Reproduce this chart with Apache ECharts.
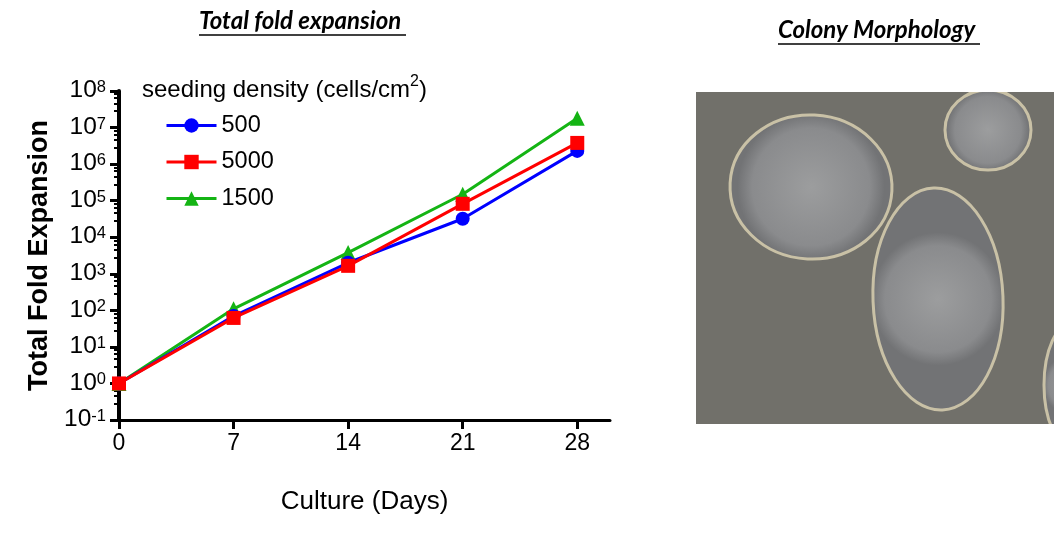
<!DOCTYPE html>
<html>
<head>
<meta charset="utf-8">
<script src="https://cdn.jsdelivr.net/npm/echarts@6/dist/echarts.min.js"></script>
<style>
html,body{margin:0;padding:0;background:#fff;}
#c{width:1054px;height:541px;}
</style>
</head>
<body>
<div id="c"></div>
<script>
// ---- data ----
var days = [0, 7, 14, 21, 28];
var series500 = [1, 70, 2000, 32000, 2300000];
var series5000 = [1, 62, 1650, 82000, 3800000];
var series1500 = [1, 110, 3800, 150000, 18000000];
var xTickValues = [0, 7, 14, 21, 28];
var legendNames = ['500', '5000', '1500'];

function pairs(ys) { return days.map(function (d, i) { return [d, ys[i]]; }); }

var chart = echarts.init(document.getElementById('c'), null, {renderer: 'canvas'});
var FONT = '"Liberation Sans", Arial, sans-serif';

// decorative colony picture (not data)
var pic = {x: 696, y: 92, w: 358, h: 332};
function colony(cx, cy, rx, ry, rot) {
  return {
    type: 'ellipse', rotation: rot || 0, x: cx, y: cy, originX: 0, originY: 0,
    shape: {cx: 0, cy: 0, rx: rx, ry: ry},
    style: {
      fill: {type: 'radial', x: 0.5, y: 0.5, r: 0.5, colorStops: [
        {offset: 0, color: '#9c9d9e'}, {offset: 0.8, color: '#8a8b8d'}, {offset: 1, color: '#727375'}]},
      stroke: '#c9c1a6', lineWidth: 3
    }, z: 1
  };
}

var option = {
  backgroundColor: '#ffffff',
  animation: false,
  textStyle: {fontFamily: FONT},
  grid: {left: 119, top: 91, width: 491, height: 329, containLabel: false},
  legend: {
    data: legendNames,
    orient: 'vertical',
    left: 165, top: 113.5, padding: 0,
    itemWidth: 50, itemHeight: 18, itemGap: 12.5,
    lineStyle: {width: 3},
    textStyle: {fontSize: 23.5, color: '#000', fontFamily: FONT, lineHeight: 24},
    selectedMode: false
  },
  xAxis: {
    type: 'value', min: 0, max: 30,
    name: 'Culture (Days)', nameLocation: 'middle', nameGap: 69,
    nameTextStyle: {fontSize: 26, color: '#000', fontFamily: FONT},
    axisLine: {show: true, onZero: false, lineStyle: {color: '#000', width: 3}},
    axisTick: {show: true, length: 9, lineStyle: {color: '#000', width: 3}, customValues: xTickValues},
    axisLabel: {fontSize: 23, color: '#000', margin: 12, customValues: xTickValues},
    splitLine: {show: false}
  },
  yAxis: {
    type: 'log', logBase: 10, min: 0.1, max: 100000000,
    name: 'Total Fold Expansion', nameLocation: 'middle', nameGap: 66, nameRotate: 90,
    nameTextStyle: {fontSize: 27, fontWeight: 'bold', color: '#000', fontFamily: FONT},
    axisLine: {show: true, lineStyle: {color: '#000', width: 4}},
    axisTick: {show: true, length: 9, lineStyle: {color: '#000', width: 3}},
    minorTick: {show: true, splitNumber: 5, length: 5, lineStyle: {color: '#000', width: 2}},
    axisLabel: {
      margin: 13, color: '#000',
      formatter: function (v) {
        var e = Math.round(Math.log10(v));
        return '{b|10}{s|' + e + '}';
      },
      rich: {
        b: {fontSize: 24.5, color: '#000', fontFamily: FONT, verticalAlign: 'bottom', lineHeight: 24},
        s: {fontSize: 16.5, color: '#000', fontFamily: FONT, verticalAlign: 'top', lineHeight: 24}
      }
    },
    splitLine: {show: false}
  },
  series: [
    {
      name: '1500', type: 'line', data: pairs(series1500),
      symbol: 'triangle', symbolSize: 15,
      lineStyle: {color: '#14b414', width: 3}, itemStyle: {color: '#14b414'}, z: 2
    },
    {
      name: '500', type: 'line', data: pairs(series500),
      symbol: 'circle', symbolSize: 14,
      lineStyle: {color: '#0000ff', width: 3}, itemStyle: {color: '#0000ff'}, z: 3
    },
    {
      name: '5000', type: 'line', data: pairs(series5000),
      symbol: 'rect', symbolSize: 14,
      lineStyle: {color: '#ff0000', width: 3}, itemStyle: {color: '#ff0000'}, z: 4
    }
  ],
  graphic: [
    {type: 'text', left: 199, top: 9, style: {text: 'Total fold expansion', font: 'italic bold 24px Lato, "Open Sans", sans-serif', fill: '#000'}},
    {type: 'line', shape: {x1: 199, y1: 35, x2: 406, y2: 35}, style: {stroke: '#000', lineWidth: 1.5}},
    {type: 'text', left: 778, top: 18, style: {text: 'Colony Morphology', font: 'italic bold 24px Lato, "Open Sans", sans-serif', fill: '#000'}},
    {type: 'line', shape: {x1: 778, y1: 44, x2: 980, y2: 44}, style: {stroke: '#000', lineWidth: 1.5}},
    {type: 'text', left: 142, top: 74, style: {
      text: '{a|seeding density (cells/cm}{s|2}{a|)}',
      rich: {
        a: {fontSize: 24, fill: '#000', fontFamily: FONT, verticalAlign: 'bottom', lineHeight: 28},
        s: {fontSize: 16, fill: '#000', fontFamily: FONT, verticalAlign: 'top', lineHeight: 28}
      }
    }},
    {type: 'rect', shape: {x: pic.x, y: pic.y, width: pic.w, height: pic.h}, style: {fill: '#71706a'}, z: 0},
    colony(811, 187, 81, 72, -0.05),
    colony(938, 299, 65, 111, 0.04),
    colony(988, 130, 43, 40, 0),
    colony(1072, 385, 28, 62, 0),
    {type: 'rect', shape: {x: 680, y: 55, width: 380, height: 37}, style: {fill: '#ffffff'}, z: 5},
    {type: 'rect', shape: {x: 680, y: 424, width: 380, height: 40}, style: {fill: '#ffffff'}, z: 5}
  ]
};
chart.setOption(option);
</script>
</body>
</html>
